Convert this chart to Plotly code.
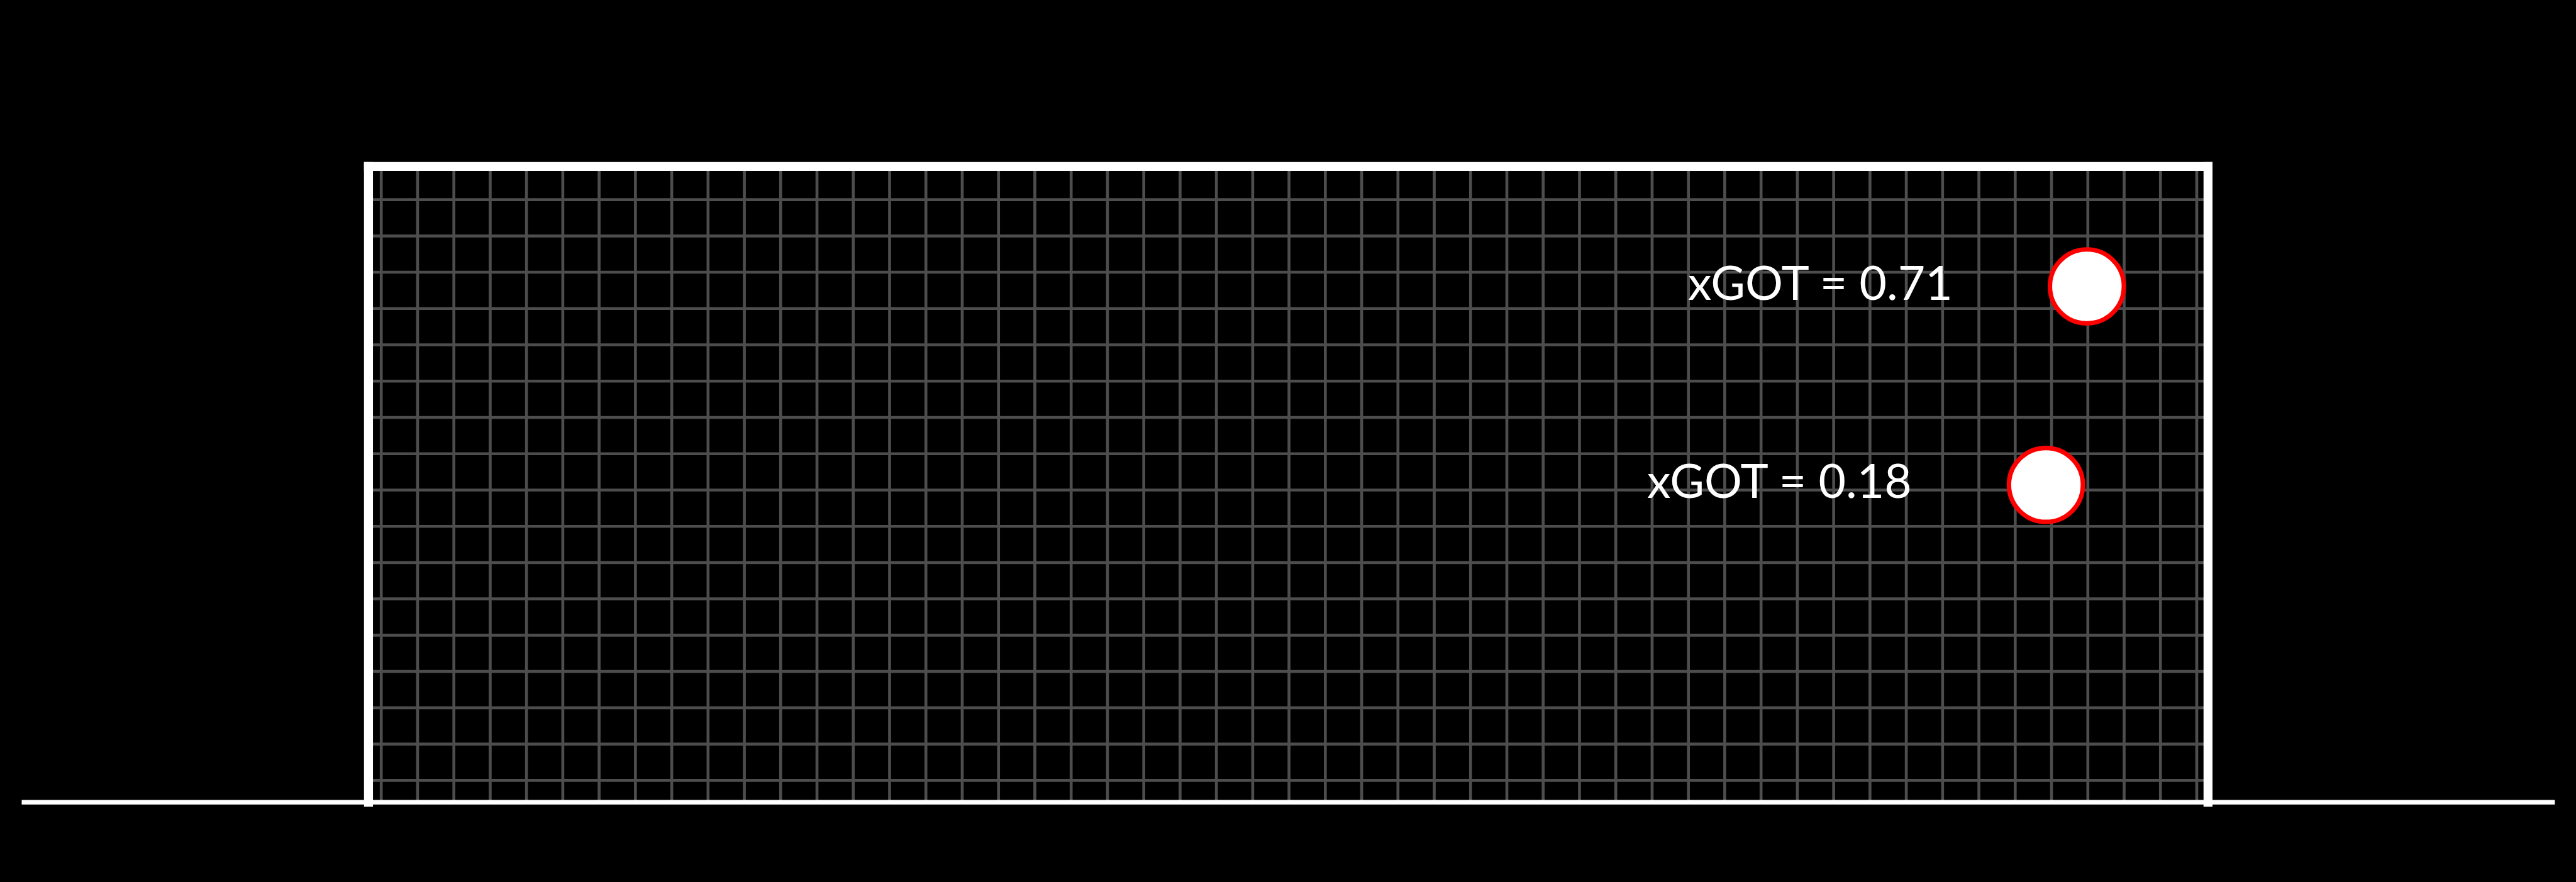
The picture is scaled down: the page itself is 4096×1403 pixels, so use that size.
import plotly.graph_objects as go

# ---- data ----
goal_width = 7.32
goal_height = 2.44
shot_x = [6.838, 6.675]
shot_y = [1.980, 1.218]
xgot_values = [0.71, 0.18]
labels = [f"xGOT = {v:.2f}" for v in xgot_values]

# ---- figure geometry ----
W, H = 4096, 1403
S = W / 5912.0  # scale vs reference
x_range = [-1.4663, 8.7843]
y_range = [-0.3063, 3.0794]
px_per_x = W / (x_range[1] - x_range[0])
px_per_y = H / (y_range[1] - y_range[0])

# net (hatch) lines
net_dx = 83.333 * S / px_per_x
net_dy = 83.333 * S / px_per_y
net_x0 = 0.0508
net_y0 = 0.0838
net_xs = [net_x0 + k * net_dx for k in range(51)]
net_ys = [net_y0 + k * net_dy for k in range(17)]

shapes = []
net_color = "#4d4d4d"
net_w = 6.7 * S
for xv in net_xs:
    shapes.append(dict(type="line", xref="x", yref="y", x0=xv, x1=xv, y0=0, y1=goal_height,
                       line=dict(color=net_color, width=net_w), layer="below"))
for yv in net_ys:
    shapes.append(dict(type="line", xref="x", yref="y", x0=0, x1=goal_width, y0=yv, y1=yv,
                       line=dict(color=net_color, width=net_w), layer="below"))

# frame
post_w_px = 20.6 * S
hx = post_w_px / 2 / px_per_x
hy = post_w_px / 2 / px_per_y
ground_w_px = 10.3 * S
gy = ground_w_px / 2 / px_per_y
ground_x = [-1.38, goal_width + 1.38]

white = "#ffffff"
shapes.append(dict(type="rect", xref="x", yref="y", x0=ground_x[0], x1=ground_x[1], y0=-gy, y1=gy,
                   fillcolor=white, line=dict(width=0), layer="below"))
for px in (0, goal_width):
    shapes.append(dict(type="rect", xref="x", yref="y", x0=px - hx, x1=px + hx, y0=-hy, y1=goal_height + hy,
                       fillcolor=white, line=dict(width=0), layer="below"))
shapes.append(dict(type="rect", xref="x", yref="y", x0=-hx, x1=goal_width + hx,
                   y0=goal_height - hy, y1=goal_height + hy,
                   fillcolor=white, line=dict(width=0), layer="below"))

fig = go.Figure()
fig.add_trace(go.Scatter(
    x=shot_x, y=shot_y, mode="markers",
    marker=dict(size=169.7 * S, color="white", line=dict(color="#ff0000", width=10.3 * S)),
    hoverinfo="skip", showlegend=False,
))

label_dx = -1.592
annotations = []
for xv, yv, t in zip(shot_x, shot_y, labels):
    annotations.append(dict(x=xv + label_dx, y=yv, xref="x", yref="y", text=t, showarrow=False,
                            xanchor="left", yanchor="middle", yshift=8,
                            font=dict(family="Lato", size=75, color="white")))

fig.update_layout(
    width=W, height=H, margin=dict(l=0, r=0, t=0, b=0),
    paper_bgcolor="black", plot_bgcolor="black",
    xaxis=dict(range=x_range, visible=False, showgrid=False, zeroline=False, fixedrange=True),
    yaxis=dict(range=y_range, visible=False, showgrid=False, zeroline=False, fixedrange=True),
    shapes=shapes, annotations=annotations, showlegend=False,
)
fig.write_html("out.html")
